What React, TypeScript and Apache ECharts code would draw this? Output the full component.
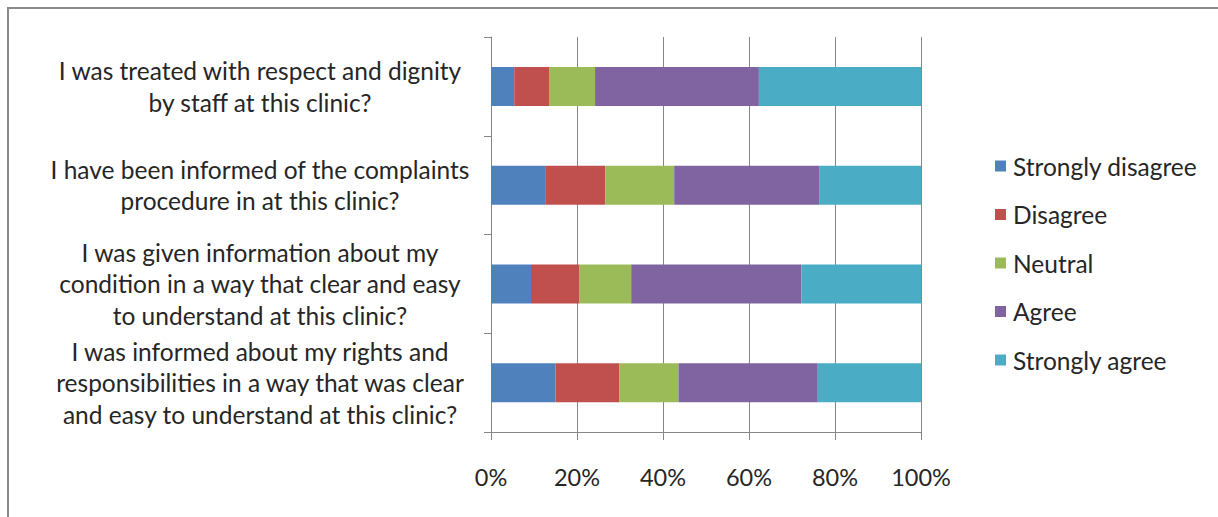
import React, { useEffect, useRef } from "react";
import * as echarts from "echarts";

const categories = [
  "I was treated with respect and dignity\nby staff at this clinic?",
  "I have been informed of the complaints\nprocedure in at this clinic?",
  "I was given information about my\ncondition in a way that clear and easy\nto understand at this clinic?",
  "I was informed about my rights and\nresponsibilities in a way that was clear\nand easy to understand at this clinic?",
];

const seriesNames = ["Strongly disagree", "Disagree", "Neutral", "Agree", "Strongly agree"];
const stronglyDisagree = [5.4, 12.6, 9.3, 15.0];
const disagree = [8.1, 14.0, 11.3, 14.8];
const neutral = [10.7, 16.0, 12.0, 13.8];
const agree = [38.1, 33.7, 39.6, 32.4];
const stronglyAgree = [37.7, 23.7, 27.8, 24.0];
const colors = ["#4F81BD", "#C0504D", "#9BBB59", "#8064A2", "#4BACC6"];
const xTicks = [0, 20, 40, 60, 80, 100];

const FONT = "Lato, 'Open Sans', sans-serif";

export default function App() {
  const ref = useRef<HTMLDivElement>(null);
  useEffect(() => {
    document.body.style.margin = "0";
    if (!ref.current) return;
    const chart = echarts.init(ref.current, undefined, { renderer: "svg" });
    const values = [stronglyDisagree, disagree, neutral, agree, stronglyAgree];
    chart.setOption({
      animation: false,
      textStyle: { fontFamily: FONT },
      grid: { left: 491, right: 297, top: 37, bottom: 85, containLabel: false },
      legend: {
        orient: "vertical",
        left: 990,
        top: 148.5,
        itemWidth: 11,
        itemHeight: 11,
        itemGap: 23.5,
        icon: "rect",
        textStyle: { fontSize: 24.5, color: "#262626", fontFamily: FONT, padding: [0, 0, 0, 2] },
        data: seriesNames,
      },
      xAxis: {
        type: "value",
        min: xTicks[0],
        max: xTicks[xTicks.length - 1],
        interval: 20,
        axisLine: { show: true, lineStyle: { color: "#868686", width: 1 } },
        axisTick: { show: true, length: 8, lineStyle: { color: "#868686" } },
        splitLine: { show: true, lineStyle: { color: "#868686", width: 1 } },
        axisLabel: {
          formatter: (v: number) => v + "%",
          fontSize: 23.5,
          color: "#262626",
          margin: 33,
          fontFamily: FONT,
        },
      },
      yAxis: {
        type: "category",
        inverse: true,
        data: categories,
        axisLine: { show: true, lineStyle: { color: "#868686", width: 1 } },
        axisTick: { show: true, length: 7, lineStyle: { color: "#868686" } },
        axisLabel: {
          fontSize: 24.5,
          lineHeight: 31.5,
          color: "#262626",
          align: "center",
          margin: 231,
          fontFamily: FONT,
        },
      },
      series: seriesNames.map((name, i) => ({
        name,
        type: "bar",
        stack: "total",
        barWidth: 39,
        itemStyle: { color: colors[i] },
        data: values[i],
      })),
      graphic: [
        {
          type: "rect",
          shape: { x: 8, y: 8, width: 1300, height: 600 },
          style: { fill: "none", stroke: "#8a8a8a", lineWidth: 2 },
          silent: true,
        },
      ],
    });
    return () => chart.dispose();
  }, []);
  return <div ref={ref} style={{ width: 1218, height: 517 }} />;
}
